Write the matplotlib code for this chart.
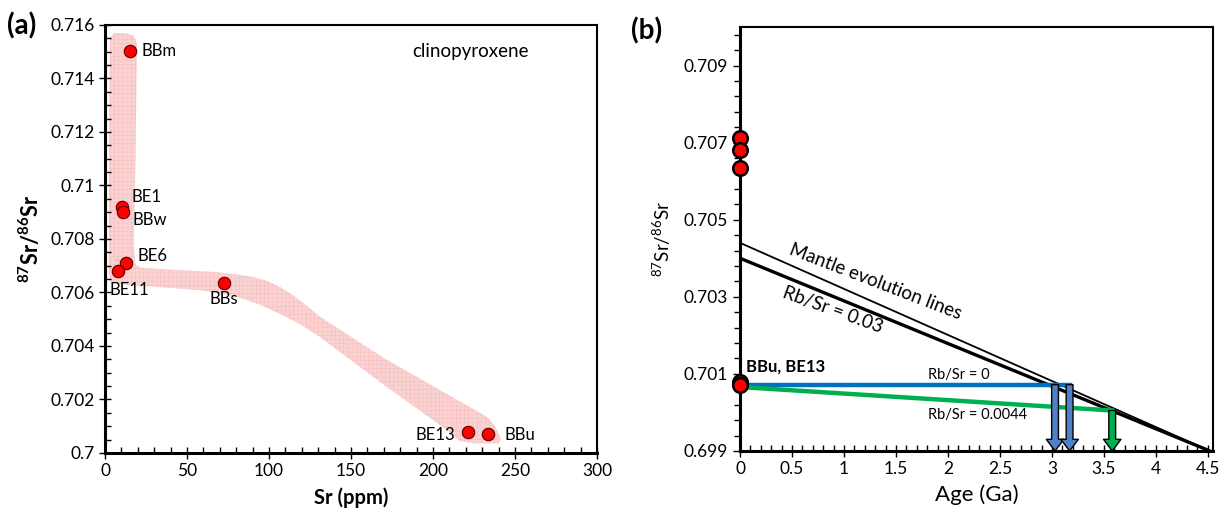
import numpy as np
import matplotlib.pyplot as plt
from matplotlib.ticker import MultipleLocator, FixedLocator, FuncFormatter
from matplotlib.patches import Polygon

plt.rcParams['font.family'] = ['Lato', 'DejaVu Sans']
plt.rcParams['mathtext.fontset'] = 'custom'
plt.rcParams['mathtext.rm'] = 'Lato'
plt.rcParams['mathtext.bf'] = 'Lato:bold'
plt.rcParams['hatch.linewidth'] = 0.3

# ---- panel (a): clinopyroxene Sr vs 87Sr/86Sr
samples = ["BBm", "BE1", "BBw", "BE6", "BE11", "BBs", "BE13", "BBu"]
sr_ppm = [15.3, 10.2, 11.2, 12.8, 7.9, 72.3, 221.4, 233.4]
sr_ratio = [0.71504, 0.70921, 0.70901, 0.70711, 0.70682, 0.70634, 0.70078, 0.70072]
label_offsets = [(8, 0), (7, 7), (6.5, -6), (8.5, 5), (-6, -14), (0, -11), (-9, -2), (12, -1)]
label_align = ["left", "left", "left", "left", "left", "center", "right", "left"]

# outline of the shaded field (Sr, ratio)
field_sr = [3.0, 5.5, 12, 17.5, 19.5, 18.3, 17.5, 18.5, 22, 66, 80, 90, 99, 107, 115, 123, 131,
            170, 233, 238, 241.5, 240, 225, 216, 211, 170, 131, 118, 106, 95, 80, 58, 10,
            3.5, 2.2, 2.5]
field_ratio = [0.7155, 0.7157, 0.7157, 0.7156, 0.7153, 0.7100, 0.7078, 0.70705, 0.70692,
               0.70677, 0.70668, 0.70658, 0.70643, 0.70620, 0.70588, 0.70550, 0.70510,
               0.70355, 0.70135, 0.70100, 0.70050, 0.70036, 0.70036, 0.70045, 0.70075,
               0.70255, 0.70434, 0.70485, 0.70522, 0.70553, 0.70585, 0.70609, 0.70630,
               0.70640, 0.70680, 0.7120]

# ---- panel (b): age evolution
pts_age = [0, 0, 0, 0, 0]
pts_ratio = [0.70711, 0.70682, 0.70634, 0.70078, 0.70072]
mantle_age = [0, 4.52]
mantle_upper = [0.7044, 0.699]
mantle_lower = [0.7040, 0.699]
blue_age = [0, 3.17]
blue_ratio = [0.70072, 0.70072]
green_age = [0, 3.58]
green_ratio = [0.70066, 0.70005]
arrow_age = [3.03, 3.17, 3.58]
arrow_top = [0.70072, 0.70072, 0.70005]
arrow_color = ["#4f81c8", "#4f81c8", "#00b050"]
b_yticks = [0.699, 0.701, 0.703, 0.705, 0.707, 0.709]

fmt = FuncFormatter(lambda v, p: "%g" % round(v, 4))

fig = plt.figure(figsize=(12.2, 5.16), dpi=100)

ax = fig.add_axes([0.0861, 0.1221, 0.4032, 0.8295])
ax.add_patch(Polygon(np.column_stack([field_sr, field_ratio]), closed=True,
                     facecolor="#fbd2d2", edgecolor="#f6bcbc", hatch="++++", lw=0, zorder=1))
ax.scatter(sr_ppm, sr_ratio, s=80, color="#ff0000", edgecolor="#5a0000", lw=0.8, zorder=3)
for name, x, y, off, ha in zip(samples, sr_ppm, sr_ratio, label_offsets, label_align):
    ax.annotate(name, (x, y), xytext=off, textcoords="offset points", ha=ha, va="center",
                fontsize=12)
ax.text(223, 0.7150, "clinopyroxene", ha="center", va="center", fontsize=13.5)
ax.set_xlim(0, 300)
ax.set_ylim(0.7, 0.716)
ax.xaxis.set_major_locator(MultipleLocator(50))
ax.xaxis.set_minor_locator(MultipleLocator(10))
ax.yaxis.set_major_locator(MultipleLocator(0.002))
ax.yaxis.set_minor_locator(MultipleLocator(0.0005))
ax.yaxis.set_major_formatter(fmt)
ax.tick_params(which="major", direction="inout", length=8, width=1, labelsize=12.5)
ax.tick_params(which="minor", direction="in", length=4, width=1)
ax.set_xlabel("Sr (ppm)", fontsize=14.5, fontweight="bold", labelpad=6)
ax.set_ylabel(r"$\mathbf{^{87}Sr/^{86}Sr}$", fontsize=15.5, labelpad=5)
for s in ax.spines.values():
    s.set_linewidth(1.5)
ax.spines["left"].set_linewidth(2.2)
ax.spines["bottom"].set_linewidth(2.2)
fig.text(0.006, 0.95, "(a)", fontsize=20, fontweight="bold", va="center")

bx = fig.add_axes([0.6066, 0.126, 0.3877, 0.8217])
bx.plot(mantle_age, mantle_upper, color="black", lw=1.3)
bx.plot(mantle_age, mantle_lower, color="black", lw=2.4)
bx.plot(blue_age, blue_ratio, color="#0070c0", lw=3.2)
bx.plot(green_age, green_ratio, color="#00b050", lw=3.2)
for a, top, c in zip(arrow_age, arrow_top, arrow_color):
    bx.annotate("", xy=(a, 0.699), xytext=(a, top),
                arrowprops=dict(arrowstyle="simple,head_length=0.6,head_width=0.9,tail_width=0.35",
                                fc=c, ec="black", lw=1, shrinkA=0, shrinkB=0, mutation_scale=14))
bx.scatter(pts_age, pts_ratio, s=110, color="#ff0000", edgecolor="black", lw=1.8,
           zorder=5, clip_on=False)
bx.text(1.30, 0.70339, "Mantle evolution lines", rotation=-21, ha="center", va="center",
        fontsize=13.5, rotation_mode="anchor")
bx.text(0.89, 0.70266, "Rb/Sr = 0.03", rotation=-20, ha="center", va="center",
        fontsize=13.5, rotation_mode="anchor")
bx.text(0.06, 0.70118, "BBu, BE13", ha="left", va="center", fontsize=12, fontweight="bold")
bx.text(2.10, 0.70097, "Rb/Sr = 0", ha="center", va="center", fontsize=10.5)
bx.text(2.28, 0.69993, "Rb/Sr = 0.0044", ha="center", va="center", fontsize=10.5)
bx.set_xlim(0, 4.55)
bx.set_ylim(0.699, 0.710)
bx.xaxis.set_major_locator(MultipleLocator(0.5))
bx.xaxis.set_minor_locator(MultipleLocator(0.1))
bx.yaxis.set_major_locator(FixedLocator(b_yticks))
bx.yaxis.set_minor_locator(FixedLocator(np.arange(0.699, 0.7099, 0.0004)))
bx.xaxis.set_major_formatter(fmt)
bx.yaxis.set_major_formatter(fmt)
bx.tick_params(axis="x", which="major", direction="inout", length=8, width=1, labelsize=12.5)
bx.tick_params(axis="x", which="minor", direction="in", length=4, width=1)
bx.tick_params(axis="y", which="major", direction="out", length=5, width=1, labelsize=12.5)
bx.tick_params(axis="y", which="minor", direction="out", length=4, width=1)
bx.set_xlabel("Age (Ga)", fontsize=16, labelpad=5)
bx.set_ylabel(r"$\mathrm{^{87}Sr/^{86}Sr}$", fontsize=13.5, labelpad=8)
for s in bx.spines.values():
    s.set_linewidth(1.5)
bx.spines["left"].set_linewidth(2.2)
bx.spines["bottom"].set_linewidth(2.2)
fig.text(0.517, 0.94, "(b)", fontsize=20, fontweight="bold", va="center")

fig.savefig("out.png", dpi=100)
